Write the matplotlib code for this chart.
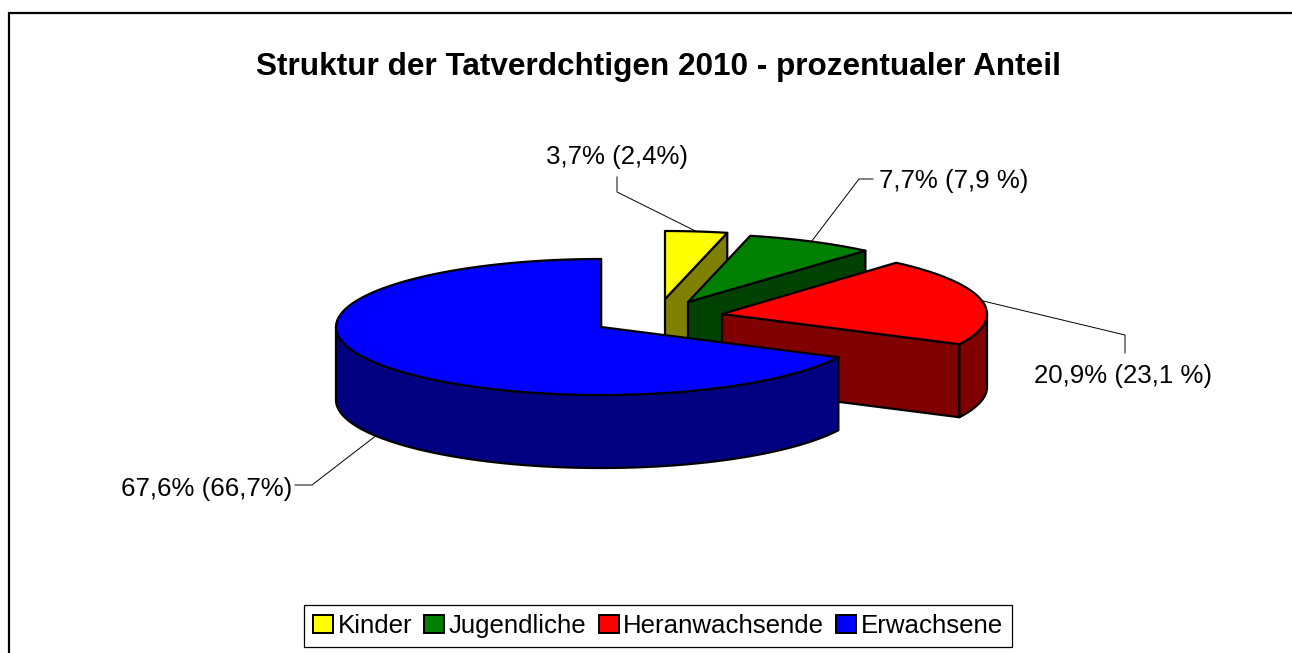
#!/usr/bin/env python3

"""Exploded 3D look pie of suspects by age group, drawn in pixel coordinates."""

import numpy as np
import matplotlib.pyplot as plt
from matplotlib.patches import Patch, Polygon, Rectangle

plt.rcParams["font.family"] = ["Liberation Sans", "DejaVu Sans"]

# data
categories = ["Kinder", "Jugendliche", "Heranwachsende", "Erwachsene"]
shares = [3.7, 7.7, 20.9, 67.6]
share_labels = ["3,7% (2,4%)", "7,7% (7,9 %)", "20,9% (23,1 %)", "67,6% (66,7%)"]
title = "Struktur der Tatverdchtigen 2010 - prozentualer Anteil"

# style / layout
top_colors = ["#ffff00", "#008000", "#ff0000", "#0000ff"]
side_colors = ["#808000", "#004000", "#800000", "#000080"]
center = (601, 327)
radii = [270, 270, 265, 265]
ry = 68
depth = 73
explode = [(64, -28), (87, -25), (121, -13), (0, 0)]
# elbow and end of each leader line, label anchor
leader_paths = [
    [(617, 192), (617, 177)],
    [(859, 179), (873, 179)],
    [(1125, 335), (1125, 353)],
    [(312, 485), (295, 485)],
]
label_pos = [(617, 157), (954, 181), (1123, 376), (207, 489)]

FONT = 18.6
EDGE = 1.6


def rim(cx, cy, rx, a0, a1, n=120):
    """Points on the ellipse, angles in degrees clockwise from 12 o'clock."""
    a = np.radians(np.linspace(a0, a1, n))
    return np.column_stack([cx + rx * np.sin(a), cy - ry * np.cos(a)])


def extrude(pts):
    """Closed band between a top outline and the same outline moved down."""
    pts = np.asarray(pts, dtype=float)
    return np.vstack([pts, (pts + [0, depth])[::-1]])


fig = plt.figure(figsize=(12.92, 6.53), dpi=100)
ax = fig.add_axes([0, 0, 1, 1])
ax.set_xlim(0, 1292)
ax.set_ylim(653, 0)
ax.axis("off")

# chart frame: the crop cuts the right and bottom sides off
ax.add_patch(Rectangle((9, 13), 1400, 800, fc="white", ec="black", lw=1.6))

ax.text(658, 67, title, ha="center", va="center", fontsize=22.7,
        fontweight="bold", color="black")

edges = np.cumsum([0] + shares) / sum(shares) * 360

for i, cat in enumerate(categories):
    a0, a1 = edges[i], edges[i + 1]
    cx, cy = center[0] + explode[i][0], center[1] + explode[i][1]
    rx = radii[i]
    outline = rim(cx, cy, rx, a0, a1)
    apex = [cx, cy]

    # cut face at the clockwise end of the wedge
    ax.add_patch(Polygon(extrude([apex, outline[-1]]), fc=side_colors[i],
                         ec="black", lw=EDGE, joinstyle="round", zorder=2 + i))
    # outer wall, only the part that faces the viewer
    lo, hi = max(a0, 90), min(a1, 270)
    if hi > lo:
        ax.add_patch(Polygon(extrude(rim(cx, cy, rx, lo, hi)), fc=side_colors[i],
                             ec="black", lw=EDGE, joinstyle="round", zorder=2 + i))
    # top face
    ax.add_patch(Polygon(np.vstack([[apex], outline]), fc=top_colors[i],
                         ec="black", lw=EDGE, joinstyle="round", zorder=2 + i))

    # leader line starts on the rim at the middle of the wedge
    mid = (a0 + a1) / 2
    start = rim(cx, cy, rx, mid, mid, n=1)[0]
    if 180 < mid < 270:
        start = start + [0, depth]
    path = np.vstack([[start], leader_paths[i]])
    ax.plot(path[:, 0], path[:, 1], color="black", lw=0.7, zorder=1 + i)

    ax.text(label_pos[i][0], label_pos[i][1], share_labels[i], ha="center",
            va="center", fontsize=FONT, color="black", zorder=10)

handles = [Patch(fc=c, ec="black", lw=1.4) for c in top_colors]
leg = ax.legend(handles, categories, ncol=4, loc="center",
                bbox_to_anchor=(658, 626), bbox_transform=ax.transData,
                fontsize=FONT, frameon=True, fancybox=False, framealpha=1,
                edgecolor="black", handlelength=0.77, handleheight=0.68,
                handletextpad=0.18, columnspacing=0.47, borderpad=0.33,
                borderaxespad=0)
leg.get_frame().set_linewidth(0.9)
leg.set_zorder(12)

fig.savefig("out.png", dpi=100)
